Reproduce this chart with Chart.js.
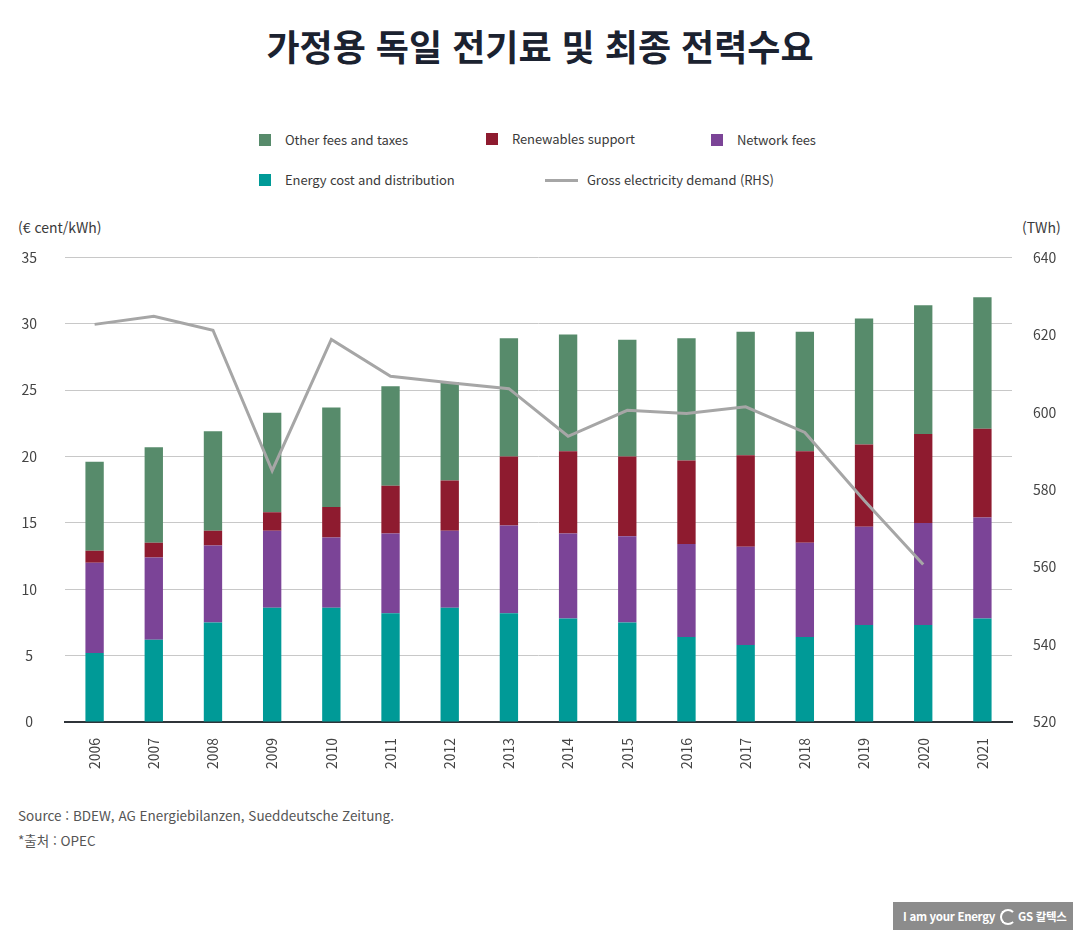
<!DOCTYPE html>
<html lang="ko">
<head>
<meta charset="utf-8">
<title>가정용 독일 전기료 및 최종 전력수요</title>
<script src="https://cdn.jsdelivr.net/npm/chart.js@4.4.1/dist/chart.umd.min.js"></script>
<style>
  html, body { margin: 0; padding: 0; background: #fff; }
  body { width: 1080px; height: 930px; position: relative; overflow: hidden;
         font-family: "Noto Sans CJK KR", "Noto Sans", sans-serif; color: #333; }
  .title { position: absolute; top: 20px; left: 0; width: 1080px; text-align: center;
           font-size: 36px; font-weight: 700; color: #1b2230; letter-spacing: 0px; line-height: 50px; }
  .leg { position: absolute; font-size: 13px; color: #3a3a3a; line-height: 20px; white-space: nowrap; letter-spacing: -0.1px; }
  .leg i { position: absolute; left: -26px; top: 4px; width: 12px; height: 12px; }
  .leg b { position: absolute; left: -42px; top: 9px; width: 33px; height: 3px; background: #a6a6a6; }
  .unit { position: absolute; top: 217px; font-size: 14px; color: #3a3a3a; }
  .src { position: absolute; left: 18px; font-size: 13.5px; color: #555; }
  .logo { position: absolute; left: 893px; top: 902px; width: 180px; height: 28px; background: #8c8c8c;
          color: #fff; font-size: 11.5px; font-weight: 700; line-height: 28px; letter-spacing: -0.3px; }
  .logo span { position: absolute; }
  .swirl { position: absolute; left: 107px; top: 7px; width: 12px; height: 12px; border: 2.5px solid #fff;
           border-radius: 50%; border-right-color: transparent; }
  #wrap { position: absolute; left: 0; top: 221px; width: 1080px; height: 579px; }
</style>
</head>
<body>
<div class="title">가정용 독일 전기료 및 최종 전력수요</div>

<div class="leg" style="left:285px;top:130px"><i style="background:#578b6b"></i>Other fees and taxes</div>
<div class="leg" style="left:512px;top:129px"><i style="background:#8e1b2f"></i>Renewables support</div>
<div class="leg" style="left:737px;top:130px"><i style="background:#7b4497"></i>Network fees</div>
<div class="leg" style="left:285px;top:170px"><i style="background:#009a97"></i>Energy cost and distribution</div>
<div class="leg" style="left:587px;top:170px"><b></b>Gross electricity demand (RHS)</div>

<div class="unit" style="left:18px">(€ cent/kWh)</div>
<div class="unit" style="left:1022px">(TWh)</div>

<div id="wrap"><canvas id="chart"></canvas></div>

<div class="src" style="top:805px">Source : BDEW, AG Energiebilanzen, Sueddeutsche Zeitung.</div>
<div class="src" style="top:830px">*출처 : OPEC</div>

<div class="logo"><span style="left:10px">I am your Energy</span><div class="swirl"></div><span style="left:125px">GS 칼텍스</span></div>

<script>
// 연도
const years = ['2006','2007','2008','2009','2010','2011','2012','2013','2014','2015','2016','2017','2018','2019','2020','2021'];

// 구성요소별 값 (€ cent/kWh) - 아래에서부터 쌓임
const energyCost = [5.2, 6.2, 7.5, 8.6, 8.6, 8.2, 8.6, 8.2, 7.8, 7.5, 6.4, 5.8, 6.4, 7.3, 7.3, 7.8];
const networkFees = [6.8, 6.2, 5.8, 5.8, 5.3, 6.0, 5.8, 6.6, 6.4, 6.5, 7.0, 7.4, 7.1, 7.4, 7.7, 7.6];
const renewables = [0.9, 1.1, 1.1, 1.4, 2.3, 3.6, 3.8, 5.2, 6.2, 6.0, 6.3, 6.9, 6.9, 6.2, 6.7, 6.7];
const otherFees = [6.7, 7.2, 7.5, 7.5, 7.5, 7.5, 7.4, 8.9, 8.8, 8.8, 9.2, 9.3, 9.0, 9.5, 9.7, 9.9];

// 총 전력수요 (TWh, 오른쪽 축)
const grossDemand = [622.7, 624.8, 621.2, 584.9, 618.8, 609.3, 607.6, 606.1, 593.8, 600.5, 599.7, 601.4, 594.8, 577.3, 560.7, null];

const leftTicks = { min: 0, max: 35, step: 5 };
const rightTicks = { min: 520, max: 640, step: 20 };

const tickFont = { family: '"Noto Sans CJK KR", "Noto Sans", sans-serif', size: 14 };
const tickColor = '#444';

const barCommon = { type: 'bar', stack: 's', yAxisID: 'y', order: 1, barPercentage: 0.31, categoryPercentage: 1.0 };

new Chart(document.getElementById('chart'), {
    data: {
        labels: years,
        datasets: [
            { ...barCommon, label: 'Energy cost and distribution', data: energyCost, backgroundColor: '#009a97' },
            { ...barCommon, label: 'Network fees', data: networkFees, backgroundColor: '#7b4497' },
            { ...barCommon, label: 'Renewables support', data: renewables, backgroundColor: '#8e1b2f' },
            { ...barCommon, label: 'Other fees and taxes', data: otherFees, backgroundColor: '#578b6b' },
            { type: 'line', label: 'Gross electricity demand (RHS)', data: grossDemand, yAxisID: 'y2', order: 0,
              borderColor: '#a6a6a6', borderWidth: 3, pointRadius: 0, tension: 0, spanGaps: false }
        ]
    },
    options: {
        responsive: true,
        maintainAspectRatio: false,
        animation: false,
        layout: { padding: { top: 17, left: 0, right: 0, bottom: 0 } },
        plugins: { legend: { display: false }, tooltip: { enabled: false } },
        scales: {
            x: {
                stacked: true,
                grid: { display: false, drawTicks: false },
                border: { display: true, color: '#2f3439', width: 2 },
                ticks: { font: tickFont, color: tickColor, minRotation: 90, maxRotation: 90, padding: 16, autoSkip: false },
                afterFit: (s) => { s.height = 78; }
            },
            y: {
                position: 'left',
                stacked: true,
                min: leftTicks.min, max: leftTicks.max,
                grid: { color: '#c8c8c8', lineWidth: 1, drawTicks: false },
                border: { display: false },
                ticks: { stepSize: leftTicks.step, font: tickFont, color: tickColor, padding: 28, crossAlign: 'center' },
                afterFit: (s) => { s.width = 65; }
            },
            y2: {
                position: 'right',
                min: rightTicks.min, max: rightTicks.max,
                grid: { display: false, drawTicks: false },
                border: { display: false },
                ticks: { stepSize: rightTicks.step, font: tickFont, color: tickColor, padding: 21, crossAlign: 'center' },
                afterFit: (s) => { s.width = 68; }
            }
        }
    }
});
</script>
</body>
</html>
